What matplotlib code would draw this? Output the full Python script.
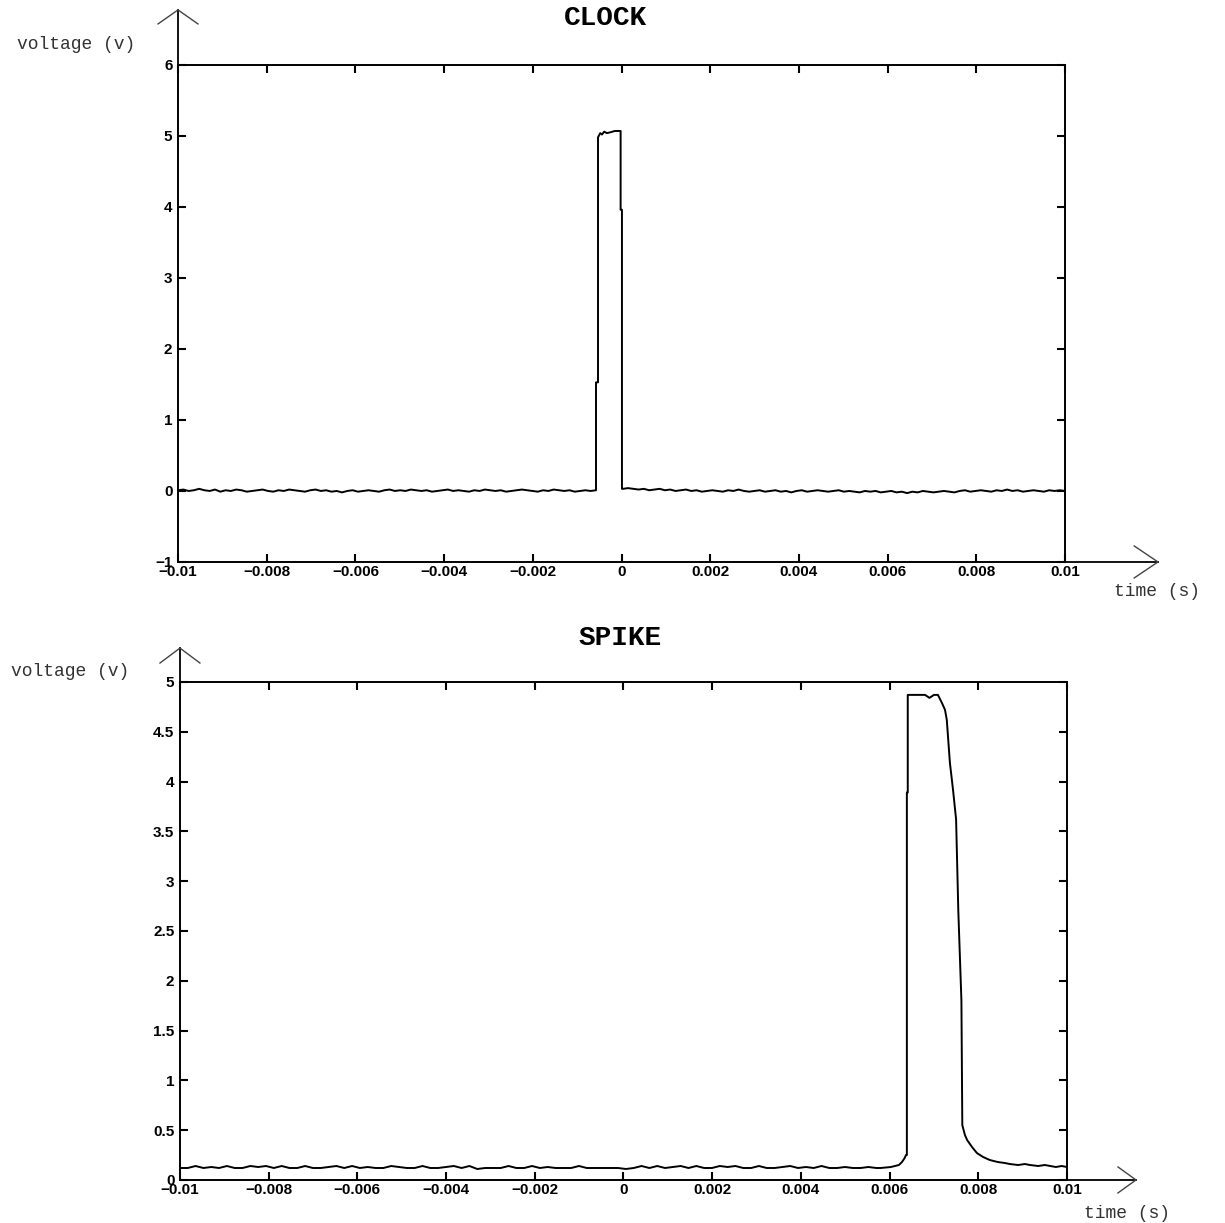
import matplotlib.pyplot as plt
import numpy as np
from matplotlib.ticker import FuncFormatter, MultipleLocator

# ---- CLOCK data (volts) ----
clock_base_left = [0.01, 0.02, 0.00, 0.01, 0.03, 0.01, 0.00, 0.02, -0.01, 0.01,
                   0.00, 0.02, 0.01, -0.01, 0.00, 0.01, 0.02, 0.00, -0.01, 0.01,
                   0.00, 0.02, 0.01, 0.00, -0.01, 0.01, 0.02, 0.00, 0.01, -0.01,
                   0.00, -0.02, 0.00, 0.01, -0.01, 0.00, 0.01, 0.00, -0.01, 0.01,
                   0.02, 0.00, 0.01, 0.00, 0.02, 0.01, 0.00, 0.01, -0.01, 0.00,
                   0.01, 0.02, 0.00, 0.01, 0.00, -0.01, 0.01, 0.00, 0.02, 0.01,
                   0.00, 0.01, -0.01, 0.00, 0.01, 0.02, 0.01, 0.00, -0.01, 0.01,
                   0.00, 0.02, 0.01, 0.00, 0.01, -0.01, 0.00, 0.01, 0.00, 0.01]
clock_pulse_t = [-0.000575, -0.000575, -0.00053, -0.00053, -0.00048, -0.00044,
                 -0.00039, -0.00033, -0.00026, -0.00015, -0.00002, -0.00002,
                 0.00001, 0.00001]
clock_pulse_v = [0.01, 1.53, 1.53, 4.98, 5.04, 5.02, 5.06, 5.04, 5.05, 5.07,
                 5.07, 3.96, 3.96, 0.03]
clock_base_right = [0.03, 0.04, 0.03, 0.02, 0.03, 0.01, 0.02, 0.03, 0.01, 0.02,
                    0.00, 0.01, 0.02, 0.00, 0.01, -0.01, 0.00, 0.01, 0.00, -0.01,
                    0.01, 0.00, 0.02, 0.00, -0.01, 0.00, 0.01, -0.01, 0.00, 0.01,
                    -0.01, 0.00, -0.02, 0.00, 0.01, -0.01, 0.00, 0.01, 0.00, -0.01,
                    0.00, 0.01, -0.01, 0.00, -0.01, -0.02, 0.00, -0.01, 0.00, -0.02,
                    -0.01, 0.00, -0.02, -0.01, -0.03, -0.01, -0.02, 0.00, -0.01, -0.02,
                    -0.01, 0.00, -0.01, -0.02, 0.00, 0.01, -0.01, 0.00, 0.01, 0.00,
                    -0.01, 0.01, 0.00, 0.02, 0.00, 0.01, -0.01, 0.00, 0.01, 0.00,
                    -0.01, 0.01, 0.00, 0.01, 0.00]

# ---- SPIKE data (volts) ----
spike_base = [0.12, 0.12, 0.14, 0.12, 0.13, 0.12, 0.14, 0.12, 0.12, 0.14,
              0.13, 0.14, 0.12, 0.14, 0.12, 0.12, 0.14, 0.12, 0.12, 0.13,
              0.14, 0.12, 0.14, 0.12, 0.13, 0.12, 0.12, 0.14, 0.13, 0.12,
              0.12, 0.14, 0.12, 0.12, 0.13, 0.14, 0.12, 0.14, 0.11, 0.12,
              0.12, 0.12, 0.14, 0.12, 0.12, 0.14, 0.12, 0.13, 0.12, 0.12,
              0.12, 0.14, 0.12, 0.12, 0.12, 0.12, 0.12, 0.11, 0.12, 0.14,
              0.12, 0.14, 0.12, 0.13, 0.14, 0.12, 0.14, 0.12, 0.12, 0.14,
              0.13, 0.14, 0.12, 0.12, 0.14, 0.12, 0.12, 0.13, 0.14, 0.12,
              0.13, 0.12, 0.14, 0.12, 0.12, 0.13, 0.12, 0.12, 0.13, 0.12]
spike_pulse_t = [0.0058, 0.00603, 0.00621, 0.00628, 0.00634, 0.00637, 0.00639,
                 0.00639, 0.00641, 0.00641, 0.0068, 0.0069, 0.0070, 0.00709,
                 0.00718, 0.00725, 0.00729, 0.00736, 0.00743, 0.00750, 0.00755,
                 0.00762, 0.00764, 0.00770, 0.00775, 0.00786, 0.00797, 0.00811,
                 0.00826, 0.00844, 0.00860, 0.00871, 0.00890, 0.00905, 0.00917,
                 0.00935, 0.00950, 0.00962, 0.00975, 0.00988, 0.0100]
spike_pulse_v = [0.12, 0.13, 0.15, 0.18, 0.22, 0.25, 0.25, 3.89, 3.89, 4.87,
                 4.87, 4.84, 4.87, 4.87, 4.79, 4.72, 4.62, 4.19, 3.92, 3.62,
                 2.70, 1.80, 0.55, 0.45, 0.40, 0.33, 0.27, 0.23, 0.20, 0.18,
                 0.17, 0.16, 0.15, 0.16, 0.15, 0.14, 0.15, 0.14, 0.13, 0.14, 0.13]

clock_t = np.concatenate([np.linspace(-0.01, -0.000575, len(clock_base_left)),
                          clock_pulse_t,
                          np.linspace(0.00003, 0.01, len(clock_base_right))])
clock_v = np.concatenate([clock_base_left, clock_pulse_v, clock_base_right])
spike_t = np.concatenate([np.linspace(-0.01, 0.0057, len(spike_base)), spike_pulse_t])
spike_v = np.concatenate([spike_base, spike_pulse_v])

tick_font = {'family': 'Liberation Sans', 'weight': 'bold', 'size': 11}
label_font = {'family': 'Liberation Mono', 'size': 13, 'color': '#333333'}
title_font = {'family': 'Liberation Mono', 'weight': 'bold', 'size': 20}

fmt = FuncFormatter(lambda v, p: ('%g' % v).replace('-', '\u2212'))

fig = plt.figure(figsize=(12.25, 12.23), dpi=100)
ax1 = fig.add_axes([0.1453, 0.5405, 0.7241, 0.4064])
ax2 = fig.add_axes([0.1469, 0.0352, 0.7241, 0.4072])


def style(ax, ylo, yhi, ystep):
    ax.set_xlim(-0.01, 0.01)
    ax.set_ylim(ylo, yhi)
    ax.xaxis.set_major_locator(MultipleLocator(0.002))
    ax.yaxis.set_major_locator(MultipleLocator(ystep))
    ax.xaxis.set_major_formatter(fmt)
    ax.yaxis.set_major_formatter(fmt)
    ax.tick_params(direction='in', length=6, width=1.5, top=True, right=True,
                   pad=2, color='black')
    ax.tick_params(axis='y', pad=4)
    for lab in ax.get_xticklabels() + ax.get_yticklabels():
        lab.set_family(tick_font['family'])
        lab.set_weight(tick_font['weight'])
        lab.set_size(tick_font['size'])
    for sp in ax.spines.values():
        sp.set_linewidth(1.4)


def arrows(ax, ytop, yarm, xend, xarm, dx, dy):
    kw = dict(transform=ax.transAxes, clip_on=False, color='black', lw=1.3)
    ax.plot([0, 0], [1, ytop], **kw)
    ax.plot([-dx, 0, dx], [yarm, ytop, yarm], color='#444444', lw=1.0,
            transform=ax.transAxes, clip_on=False)
    ax.plot([1, xend], [0, 0], **kw)
    ax.plot([xarm, xend, xarm], [dy, 0, -dy], color='#444444', lw=1.0,
            transform=ax.transAxes, clip_on=False)


ax1.plot(clock_t, clock_v, color='black', lw=1.4)
style(ax1, -1, 6, 1)
arrows(ax1, 1.1107, 1.0825, 1.1048, 1.078, 0.0225, 0.0322)

ax2.plot(spike_t, spike_v, color='black', lw=1.4)
style(ax2, 0, 5, 0.5)
arrows(ax2, 1.0680, 1.0380, 1.0778, 1.0575, 0.0225, 0.0261)

fig.text(0.4939, 0.9853, 'CLOCK', ha='center', va='center', **title_font)
fig.text(0.5061, 0.4783, 'SPIKE', ha='center', va='center', **title_font)
fig.text(0.062, 0.964, 'voltage (v)', ha='center', va='center', **label_font)
fig.text(0.057, 0.4513, 'voltage (v)', ha='center', va='center', **label_font)
fig.text(0.9445, 0.516, 'time (s)', ha='center', va='center', **label_font)
fig.text(0.920, 0.0074, 'time (s)', ha='center', va='center', **label_font)

fig.savefig('out.png', dpi=100)
